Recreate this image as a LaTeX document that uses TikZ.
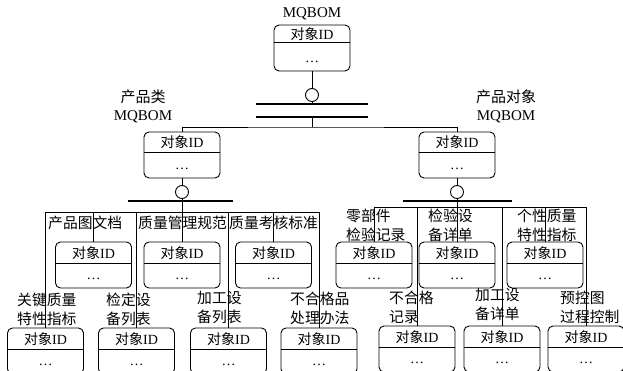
\documentclass[tikz,border=0pt]{standalone}
\usepackage{fontspec}
\setmainfont{Liberation Serif}
\newfontfamily\cjk{Noto Sans CJK SC}
\usetikzlibrary{calc}
\tikzset{
 ebox/.style={draw, rounded corners=5pt, minimum width=76pt, minimum height=46pt, inner sep=0pt, line width=0.9pt},
 divl/.style={line width=0.9pt},
 conn/.style={line width=0.9pt},
 barl/.style={line width=2.6pt},
 circ/.style={draw, circle, minimum size=13pt, inner sep=0pt, line width=0.9pt},
 btxt/.style={inner sep=0pt, font=\fontsize{14}{16}\selectfont},
 lbl/.style={inner sep=0pt, anchor=west, align=left, font=\fontsize{14.8}{19}\selectfont\cjk},
 mlbl/.style={inner sep=0pt, align=center, font=\fontsize{15}{18}\selectfont},
}
\newcommand\mkbox[4]{%
 \node[ebox] (#1) at (#2,#3+23) {};
 \draw[divl] ([yshift=-#4pt]#1.north west) -- ([yshift=-#4pt]#1.north east);
 \node[btxt] (#1t) at (#2,#3+#4/2) {{\cjk 对象}ID};
 \node[btxt] (#1d) at (#2,#3+37) {…};
}
\begin{document}
\begin{tikzpicture}[x=1pt,y=-1pt]
\useasboundingbox (0,0) rectangle (623,371);
\clip (0,0) rectangle (623,371);

% top
\node[mlbl] (mq) at (312,14) {MQBOM};
\mkbox{top}{312}{25}{18}
\node[circ] (c0) at (312,95) {};
\coordinate (b0a) at (312,104);
\coordinate (b0b) at (312,117);
\coordinate (j0) at (312,127);
\draw[barl] ([xshift=-56pt]b0a) -- ([xshift=56pt]b0a);
\draw[barl] ([xshift=-56pt]b0b) -- ([xshift=56pt]b0b);
\draw[conn] (top) -- (c0);
\draw[conn] (c0) -- (b0a);
\draw[conn] (b0b) -- (j0);

% middle
\node[mlbl] (lm1) at (143,106) {{\cjk 产品类}\\MQBOM};
\node[mlbl] (lm2) at (506,106.5) {{\cjk 产品对象}\\MQBOM};
\mkbox{m1}{182}{132}{21}
\mkbox{m2}{457}{132}{21}
\draw[conn] (m1.north) |- (j0) -| (m2.north);

\node[circ] (c1) at (182,192) {};
\node[circ] (c2) at (457,192) {};
\coordinate (b1) at (182,201);
\coordinate (b2) at (457,201);
\draw[barl] ([xshift=-54pt]b1) -- ([xshift=51pt]b1);
\draw[barl] ([xshift=-54pt]b2) -- ([xshift=55pt]b2);
\draw[conn] (m1) -- (c1);
\draw[conn] (c1) -- (b1);
\draw[conn] (m2) -- (c2);
\draw[conn] (c2) -- (b2);

% left group boxes
\mkbox{La}{93.5}{242}{21.5}
\mkbox{Lb}{182}{242}{21.5}
\mkbox{Lc}{273.5}{242}{21.5}
\mkbox{A}{45.5}{328}{21.5}
\mkbox{B}{136.5}{328}{21.5}
\mkbox{C}{228.5}{328}{21.5}
\mkbox{D}{319}{328}{21.5}
\coordinate (h1) at (182,212);
\draw[conn] (b1) -- (Lb.north);
\draw[conn] (A.north |- h1) -- (D.north |- h1);
\foreach \n in {A,La,B,C,Lc,D} \draw[conn] (\n.north |- h1) -- (\n.north);

% right group boxes
\mkbox{Ra}{374}{242}{21.5}
\mkbox{Rb}{457}{242}{21.5}
\mkbox{Rc}{545}{242}{21.5}
\mkbox{E}{417}{326}{21.5}
\mkbox{F}{502}{326}{21.5}
\mkbox{G}{586}{326}{21.5}
\coordinate (h2) at (457,207);
\draw[conn] (b2) -- (Rb.north);
\draw[conn] (Ra.north |- h2) -- (G.north |- h2);
\foreach \n in {Ra,E,F,Rc,G} \draw[conn] (\n.north |- h2) -- (\n.north);

% labels
\node[lbl] (t1) at (48,223) {产品图文档};
\node[lbl] (t2) at (138,223) {质量管理规范};
\node[lbl] (t3) at (229,223) {质量考核标准};
\node[lbl] (t4) at (346,225) {零部件\\检验记录};
\node[lbl] (t5) at (428,225) {检验设\\备详单};
\node[lbl] (t6) at (517,225) {个性质量\\特性指标};
\node[lbl] (t7) at (17,309) {关键质量\\特性指标};
\node[lbl] (t8) at (106,309) {检定设\\备列表};
\node[lbl] (t9) at (197,308) {加工设\\备列表};
\node[lbl] (t10) at (290,308) {不合格品\\处理办法};
\node[lbl] (t11) at (389,307) {不合格\\记录};
\node[lbl] (t12) at (475,304) {加工设\\备详单};
\node[lbl] (t13) at (560,307) {预控图\\过程控制};
\end{tikzpicture}
\end{document}
